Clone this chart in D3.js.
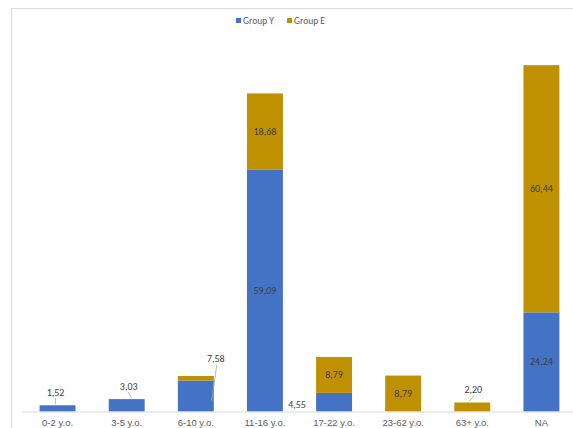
<!DOCTYPE html>
<html>
<head>
<meta charset="utf-8">
<script src="https://cdn.jsdelivr.net/npm/d3@7"></script>
<style>
  html, body { margin: 0; padding: 0; background: #fff; overflow: hidden; }
  svg { display: block; font-family: Calibri, Carlito, "Liberation Sans", "Open Sans", sans-serif; }
</style>
</head>
<body>
<svg id="chart" width="573" height="428"></svg>
<script>
// Age groups and the share (%) of each group falling into them
const categories = ["0-2 y.o.", "3-5 y.o.", "6-10 y.o.", "11-16 y.o.", "17-22 y.o.", "23-62 y.o.", "63+ y.o.", "NA"];
const groupY = [1.52, 3.03, 7.58, 59.09, 4.55, 0, 0, 24.24];
const groupE = [0, 0, 1.10, 18.68, 8.79, 8.79, 2.20, 60.44];
const seriesNames = ["Group Y", "Group E"];
const seriesColors = ["#4472C4", "#BF9000"];

const svg = d3.select("#chart");

// chart area frame (extends past the right and bottom edges)
svg.append("rect")
  .attr("x", 11.5).attr("y", 8.5)
  .attr("width", 600).attr("height", 500)
  .attr("fill", "#fff").attr("stroke", "#d9d9d9").attr("stroke-width", 1);

const x = d3.scaleBand().domain(categories).range([23, 576]).paddingInner(0.48).paddingOuter(0.24);
const y = d3.scaleLinear().domain([0, 100]).range([411.5, 2.5]);

// stacked series
const rows = categories.map((c, i) => ({ cat: c, "Group Y": groupY[i], "Group E": groupE[i] }));
const stacked = d3.stack().keys(seriesNames)(rows);

const layers = svg.append("g").selectAll("g").data(stacked).join("g")
  .attr("fill", (d, i) => seriesColors[i]);

layers.selectAll("rect").data(d => d).join("rect")
  .attr("x", d => x(d.data.cat))
  .attr("width", x.bandwidth())
  .attr("y", d => y(d[1]))
  .attr("height", d => y(d[0]) - y(d[1]));

// baseline
svg.append("line")
  .attr("x1", 22).attr("x2", 573)
  .attr("y1", y(0) + 0.5).attr("y2", y(0) + 0.5)
  .attr("stroke", "#d9d9d9").attr("stroke-width", 1);

// category axis labels
const xAxis = d3.axisBottom(x).tickSize(0).tickPadding(0);
const gx = svg.append("g").attr("transform", `translate(0,${y(0) + 8})`).call(xAxis);
gx.select(".domain").remove();
gx.selectAll("text")
  .attr("dy", "0.71em")
  .attr("fill", "#595959")
  .style("font-size", "9.5px");

const fmt = v => v.toFixed(2).replace(".", ",");
const labelColor = "#404040";

// value labels: inside the segment when tall enough, otherwise placed just above
// with a short leader line (offsets in px: dx, dy from bar-top centre)
const outside = {
  "0-2 y.o.|Group Y":  { dx: -2, dy: -13, lead: true },
  "3-5 y.o.|Group Y":  { dx: 2, dy: -13, lead: true, tilt: 3 },
  "6-10 y.o.|Group Y": { dx: 20, dy: -22, lead: true, tilt: -5, toX: 16, toY: 20 },
  "17-22 y.o.|Group Y": { dx: -37, dy: 12, lead: false },
  "63+ y.o.|Group E":  { dx: 1, dy: -13, lead: true, tilt: -4 }
};

const labels = svg.append("g").style("font-size", "10px").attr("text-anchor", "middle");

stacked.forEach(layer => {
  layer.forEach(d => {
    const v = d[1] - d[0];
    const key = d.data.cat + "|" + layer.key;
    const cx = x(d.data.cat) + x.bandwidth() / 2;
    const top = y(d[1]);
    if (outside[key]) {
      const o = outside[key];
      const lx = cx + o.dx, ly = top + o.dy;
      labels.append("text").attr("x", lx).attr("y", ly)
        .attr("dy", "0.35em").attr("fill", labelColor).text(fmt(v));
      if (o.lead) {
        const ex = o.toX !== undefined ? cx + o.toX : cx + o.dx + (o.tilt || 0);
        const ey = o.toY !== undefined ? top + o.toY : top - 1;
        labels.append("line")
          .attr("x1", lx + (o.tilt ? -o.tilt * 0.2 : 0)).attr("y1", ly + 6)
          .attr("x2", ex).attr("y2", ey)
          .attr("stroke", "#a6a6a6").attr("stroke-width", 0.8);
      }
    } else if (v >= 5) {
      labels.append("text").attr("x", cx).attr("y", (y(d[0]) + top) / 2)
        .attr("dy", "0.35em").attr("fill", labelColor).text(fmt(v));
    }
  });
});

// legend
const legend = svg.append("g").attr("transform", "translate(236,21)");
const items = [{ name: "Group Y", x: 0 }, { name: "Group E", x: 51 }];
items.forEach((it, i) => {
  legend.append("rect").attr("x", it.x).attr("y", -3).attr("width", 5).attr("height", 5)
    .attr("fill", seriesColors[i]);
  legend.append("text").attr("x", it.x + 7).attr("y", 0).attr("dy", "0.35em")
    .attr("fill", "#595959").style("font-size", "9.5px").text(it.name);
});
</script>
</body>
</html>
